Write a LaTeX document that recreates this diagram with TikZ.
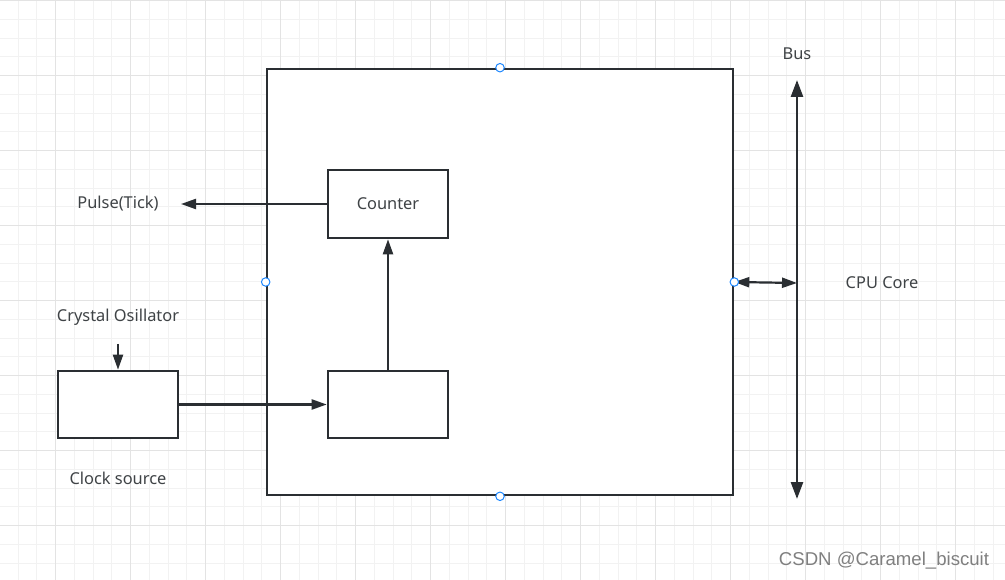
\documentclass[tikz,border=0pt]{standalone}
\usepackage{fontspec}
\setmainfont{Noto Sans}
\newfontfamily\wmfont{Liberation Sans}
\usetikzlibrary{arrows.meta}
\definecolor{ink}{HTML}{2A2E32}
\definecolor{gridminor}{HTML}{F2F2F2}
\definecolor{gridmajor}{HTML}{E3E3E3}
\definecolor{handle}{HTML}{1E88FF}
\tikzset{
  box/.style={draw=ink, line width=2.6pt, fill=white, inner sep=0pt},
  lbl/.style={font=\fontsize{16.4}{19}\selectfont, text=ink!90, inner sep=0pt},
  conn/.style={draw=ink, line width=2.2pt, -{Triangle[length=15pt,width=10pt]}},
  dconn/.style={draw=ink, line width=2.2pt, {Triangle[length=15pt,width=10pt]}-{Triangle[length=15pt,width=10pt]}},
  busline/.style={draw=ink, line width=2.6pt, {Triangle[length=17pt,width=12pt]}-{Triangle[length=17pt,width=12pt]}},
  handlept/.style={circle, draw=handle, fill=white, line width=1pt, minimum size=8.5pt, inner sep=0pt},
}
\begin{document}
\begin{tikzpicture}[x=1pt,y=-1pt]
\useasboundingbox (0,0) rectangle (1005,580);
\fill[white] (0,0) rectangle (1005,580);
% grid
\foreach \k in {0,...,53} {\draw[gridminor, line width=1pt] ({18.2+18.75*\k},0) -- ({18.2+18.75*\k},580);}
\foreach \k in {0,...,30} {\draw[gridminor, line width=1pt] (0,{0.7+18.75*\k}) -- (1005,{0.7+18.75*\k});}
\foreach \k in {-1,...,13} {\draw[gridmajor, line width=1pt] ({55.7+75*\k},0) -- ({55.7+75*\k},580);}
\foreach \k in {0,...,7} {\draw[gridmajor, line width=1pt] (0,{0.7+75*\k}) -- (1005,{0.7+75*\k});}
% main block
\node[box, minimum width=466pt, minimum height=426pt] (main) at (500,282) {};
\node[box, minimum width=120pt, minimum height=68pt, lbl] (counter) at (388,204) {Counter};
\node[box, minimum width=120pt, minimum height=67pt] (lower) at (388,404.5) {};
\node[box, minimum width=120pt, minimum height=67pt] (clock) at (118,404.5) {};
% labels
\node[lbl] (pulse) at (118,204) {Pulse(Tick)};
\node[lbl] (crystal) at (118,317) {Crystal Osillator};
\node[lbl] (clocklbl) at (118,478) {Clock source};
\node[lbl] (buslbl) at (797,54) {Bus};
\node[lbl] (cpu) at (882,283) {CPU Core};
% coordinates
\coordinate (pulseend) at (181,204);
\coordinate (crystalstart) at (118,344);
\coordinate (busTop) at (797,80);
\coordinate (busBot) at (797,499);
\coordinate (busMid) at (797,283);
% connectors
\draw[conn] (clock.east) -- (lower.west);
\draw[conn] (lower.north) -- (counter.south);
\draw[conn] (counter.west) -- (pulseend);
\draw[conn] (crystalstart) -- (clock.north);
\draw[busline] (busBot) -- (busTop);
\draw[dconn] (main.east) -- (busMid);
% handles
\node[handlept] (h1) at (main.north) {};
\node[handlept] (h2) at (main.south) {};
\node[handlept] (h3) at (main.west) {};
\node[handlept] (h4) at (main.east) {};
% watermark
\node[font=\wmfont\fontsize{18.6}{22}\selectfont, text=black!50] (wm) at (884,561) {CSDN @Caramel\_biscuit};
\end{tikzpicture}
\end{document}
